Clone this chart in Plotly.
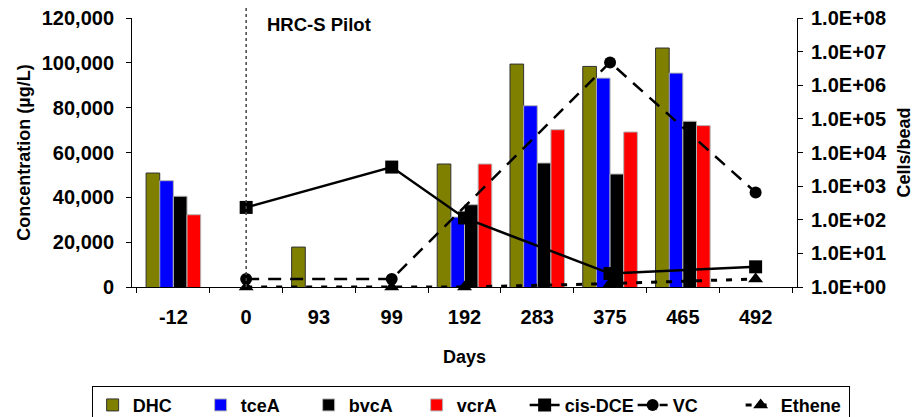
import plotly.graph_objects as go

days = ["-12", "0", "93", "99", "192", "283", "375", "465", "492"]

# cells/bead (right, log axis)
dhc = [2450, None, 15.4, None, 4550, 4.26e6, 3.63e6, 1.28e7, None]
tcea = [1450, None, None, None, 120, 2.46e5, 1.63e6, 2.3e6, None]
bvca = [500, None, None, None, 280, 4870, 2290, 8.5e4, None]
vcra = [141, None, None, None, 4550, 4.76e4, 4.07e4, 6.3e4, None]

# concentrations in ug/L (left axis)
cis_dce = [None, 35500, None, 53500, 30800, None, 6000, None, 9000]
vc = [None, 3570, None, 3570, None, None, 100200, None, 42200]
ethene = [None, 0, None, 0, 0, None, 1500, None, 3600]

FONT = "Liberation Sans, Arial, sans-serif"
fnt = dict(family=FONT, size=18, color="black", weight="bold")
tick_fnt = dict(fnt, size=20)

fig = go.Figure()

bars = [
    ("DHC", dhc, "#808000", "#303030"),
    ("tceA", tcea, "#0000ff", "#b4b4b4"),
    ("bvcA", bvca, "#000000", "#b4b4b4"),
    ("vcrA", vcra, "#ff0000", "#b4b4b4"),
]
for name, vals, col, edge in bars:
    fig.add_trace(go.Bar(
        x=days, y=vals, name=name, yaxis="y",
        marker=dict(color=col, line=dict(color=edge, width=1)),
    ))

fig.add_trace(go.Scatter(
    x=days, y=cis_dce, name="cis-DCE", yaxis="y2", connectgaps=True,
    mode="lines+markers", cliponaxis=False,
    line=dict(color="black", width=2.5),
    marker=dict(symbol="square", size=13, color="black"),
))
fig.add_trace(go.Scatter(
    x=days, y=vc, name="VC", yaxis="y2", connectgaps=True,
    mode="lines+markers", cliponaxis=False,
    line=dict(color="black", width=2.5, dash="13px,9px"),
    marker=dict(symbol="circle", size=12, color="black"),
))
fig.add_trace(go.Scatter(
    x=days, y=ethene, name="Ethene", yaxis="y2", connectgaps=True,
    mode="lines+markers", cliponaxis=False,
    line=dict(color="black", width=3, dash="6px,9px"),
    marker=dict(symbol="triangle-up", size=13, color="black"),
))

# start of HRC-S pilot (category index 1 = day 0)
fig.add_shape(type="line", xref="x", yref="paper", x0=1, x1=1,
              y0=0, y1=1.057, line=dict(color="#444", width=1.5, dash="dot"))
fig.add_annotation(text="HRC-S Pilot", xref="paper", yref="paper",
                   x=0.2, y=0.975, xanchor="left", yanchor="middle",
                   showarrow=False, font=dict(fnt, size=18.5))

# the page body adds an 8px offset, so margins are trimmed by 8 on top/left
fig.update_layout(
    width=920, height=417,
    margin=dict(l=124, r=131, t=10, b=138, autoexpand=False),
    paper_bgcolor="white", plot_bgcolor="white",
    font=fnt,
    barmode="group", bargap=0.25, bargroupgap=0,
    xaxis=dict(
        type="category", tickson="boundaries", ticks="outside", ticklen=5,
        tickcolor="black", showline=True, linecolor="black", linewidth=1,
        showgrid=False, ticklabelstandoff=12, tickfont=tick_fnt,
        automargin=False,
        title=dict(text="Days", font=fnt, standoff=23),
    ),
    yaxis=dict(
        type="log", range=[0, 8], side="right",
        tickvals=[10 ** k for k in range(9)],
        ticktext=["1.0E+%02d" % k for k in range(9)],
        ticks="outside", ticklen=5, tickcolor="black",
        showline=True, linecolor="black", linewidth=1, showgrid=False,
        zeroline=False, ticklabelstandoff=4, tickfont=tick_fnt,
        ticklabeloverflow="allow", automargin=False,
        title=dict(text="Cells/bead", font=fnt, standoff=11),
    ),
    yaxis2=dict(
        overlaying="y", side="left", range=[0, 120000], dtick=20000,
        tickformat=",", ticks="outside", ticklen=5, tickcolor="black",
        showline=True, linecolor="black", linewidth=1, showgrid=False,
        zeroline=False, ticklabelstandoff=8, tickfont=tick_fnt,
        ticklabeloverflow="allow", automargin=False,
        title=dict(text="Concentration (µg/L)", font=fnt, standoff=6),
    ),
    legend=dict(
        orientation="h", x=-0.0607, xanchor="left", y=-0.367, yanchor="top",
        bordercolor="black", borderwidth=1, font=fnt,
        entrywidth=63, entrywidthmode="pixels", traceorder="normal",
    ),
    showlegend=True,
)

fig.write_html("out.html")
